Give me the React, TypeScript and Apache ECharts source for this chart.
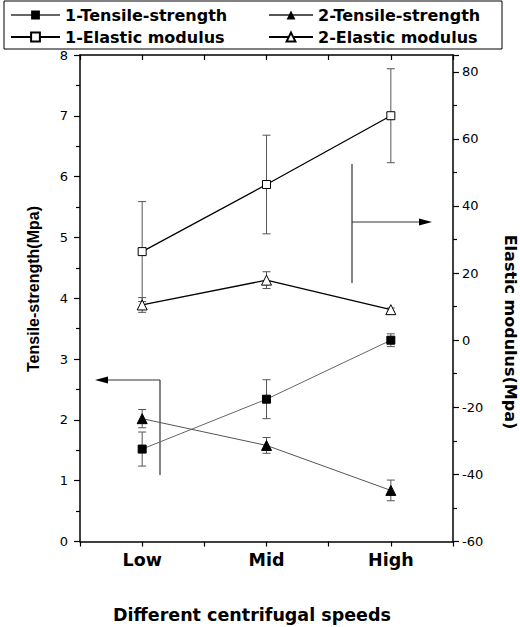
import React, { useEffect, useRef } from 'react';
import * as echarts from 'echarts';

const categories = ['Low', 'Mid', 'High'];
const catPositions = [1, 2, 3];

const tensile1 = [1.52, 2.34, 3.31];
const tensile1Err = [0.28, 0.32, 0.105];
const tensile2 = [2.02, 1.58, 0.84];
const tensile2Err = [0.15, 0.13, 0.17];
const elastic1 = [26.4, 46.4, 66.9];
const elastic1Err = [14.9, 14.7, 14.0];
const elastic2 = [10.5, 17.9, 9.1];
const elastic2Err = [2.2, 2.5, 0.5];

const leftTicks = { min: 0, max: 8, interval: 1 };
const rightTicks = { min: -60, max: 85, interval: 20 };

const FONT = 'DejaVu Sans';

function labelFor(v: number): string {
  const idx = catPositions.indexOf(v);
  return idx >= 0 ? categories[idx] : '';
}

function errorSeries(name: string, vals: number[], errs: number[], yAxisIndex: number) {
  return {
    type: 'custom',
    name,
    yAxisIndex,
    z: 1,
    silent: true,
    encode: { x: 0, y: [1, 2] },
    data: vals.map((v, i) => [catPositions[i], v - errs[i], v + errs[i]]),
    renderItem: (params: any, api: any) => {
      const x = api.value(0);
      const lo = api.coord([x, api.value(1)]);
      const hi = api.coord([x, api.value(2)]);
      const w = 4;
      const style = { stroke: '#555', lineWidth: 1 };
      return {
        type: 'group',
        children: [
          { type: 'line', shape: { x1: lo[0], y1: lo[1], x2: hi[0], y2: hi[1] }, style },
          { type: 'line', shape: { x1: lo[0] - w, y1: lo[1], x2: lo[0] + w, y2: lo[1] }, style },
          { type: 'line', shape: { x1: hi[0] - w, y1: hi[1], x2: hi[0] + w, y2: hi[1] }, style },
        ],
      };
    },
  };
}

function toPairs(vals: number[]) {
  return vals.map((v, i) => [catPositions[i], v]);
}

export default function App() {
  const ref = useRef<HTMLDivElement>(null);

  useEffect(() => {
    if (!ref.current) return;
    const chart = echarts.init(ref.current, undefined, { renderer: 'svg' });

    const axisLine = { show: true, onZero: false, lineStyle: { color: '#000', width: 1.5 } };
    const tickStyle = { color: '#000', width: 1.2 };
    const legendText = { fontFamily: FONT, fontWeight: 'bold', fontSize: 16, color: '#000', lineHeight: 18 };
    const arrowStyle = { stroke: '#333', lineWidth: 1.2 };

    const option: any = {
      animation: false,
      backgroundColor: '#fff',
      grid: { left: 80, right: 67, top: 55, bottom: 85.5, containLabel: false },
      legend: [
        {
          left: 10, top: 6, padding: 0, orient: 'vertical', itemWidth: 49, itemHeight: 11, itemGap: 4,
          data: ['1-Tensile-strength', '1-Elastic modulus'], textStyle: legendText,
        },
        {
          left: 268, top: 6, padding: 0, orient: 'vertical', itemWidth: 44, itemHeight: 11, itemGap: 4,
          data: ['2-Tensile-strength', '2-Elastic modulus'], textStyle: legendText,
        },
      ],
      xAxis: [
        {
          type: 'value', min: 0.5, max: 3.5, interval: 0.5, position: 'bottom',
          axisLine, axisTick: { show: true, inside: false, length: 5, lineStyle: tickStyle },
          axisLabel: {
            formatter: (v: number) => labelFor(v), fontFamily: FONT, fontWeight: 'bold',
            fontSize: 17.5, color: '#000', margin: 9,
          },
          splitLine: { show: false },
        },
        {
          type: 'value', min: 0.5, max: 3.5, interval: 0.5, position: 'top',
          axisLine, axisTick: { show: true, inside: true, length: 5, lineStyle: tickStyle },
          axisLabel: { show: false }, splitLine: { show: false },
        },
      ],
      yAxis: [
        {
          type: 'value', ...leftTicks, position: 'left',
          axisLine, axisTick: { show: true, length: 6, lineStyle: tickStyle },
          minorTick: { show: true, splitNumber: 2, length: 4, lineStyle: tickStyle },
          axisLabel: { fontFamily: FONT, fontSize: 13, color: '#000', margin: 12 },
          splitLine: { show: false },
        },
        {
          type: 'value', ...rightTicks, position: 'right',
          axisLine, axisTick: { show: true, length: 6, lineStyle: tickStyle },
          minorTick: { show: true, splitNumber: 2, length: 4, lineStyle: tickStyle },
          axisLabel: {
            fontFamily: FONT, fontSize: 13, color: '#000', margin: 9,
            formatter: (v: number) => (v % 20 === 0 ? String(v) : ''),
          },
          splitLine: { show: false },
        },
      ],
      series: [
        errorSeries('e1', tensile1, tensile1Err, 0),
        errorSeries('e2', tensile2, tensile2Err, 0),
        errorSeries('e3', elastic1, elastic1Err, 1),
        errorSeries('e4', elastic2, elastic2Err, 1),
        {
          name: '1-Tensile-strength', type: 'line', yAxisIndex: 0, data: toPairs(tensile1),
          symbol: 'rect', symbolSize: 8, z: 3,
          itemStyle: { color: '#000', borderColor: '#000' },
          lineStyle: { color: '#666', width: 1 },
        },
        {
          name: '2-Tensile-strength', type: 'line', yAxisIndex: 0, data: toPairs(tensile2),
          symbol: 'triangle', symbolSize: 10, z: 3,
          itemStyle: { color: '#000', borderColor: '#000' },
          lineStyle: { color: '#555', width: 1 },
        },
        {
          name: '1-Elastic modulus', type: 'line', yAxisIndex: 1, data: toPairs(elastic1),
          symbol: 'rect', symbolSize: 8, z: 3,
          itemStyle: { color: '#fff', borderColor: '#000', borderWidth: 1 },
          lineStyle: { color: '#000', width: 1.3 },
        },
        {
          name: '2-Elastic modulus', type: 'line', yAxisIndex: 1, data: toPairs(elastic2),
          symbol: 'triangle', symbolSize: 10, z: 3,
          itemStyle: { color: '#fff', borderColor: '#000', borderWidth: 1 },
          lineStyle: { color: '#000', width: 1.3 },
        },
      ],
      graphic: [
        { type: 'rect', shape: { x: 4, y: 1, width: 498, height: 48 }, style: { fill: 'none', stroke: '#000', lineWidth: 1 }, z: 0 },
        // right-pointing arrow (elastic modulus -> right axis)
        { type: 'line', shape: { x1: 352, y1: 164, x2: 352, y2: 283 }, style: arrowStyle },
        { type: 'line', shape: { x1: 352, y1: 222, x2: 422, y2: 222 }, style: arrowStyle },
        { type: 'polygon', shape: { points: [[432, 222], [419, 218.5], [419, 225.5]] }, style: { fill: '#000' } },
        // left-pointing arrow (tensile strength -> left axis)
        { type: 'line', shape: { x1: 160, y1: 380, x2: 160, y2: 475 }, style: arrowStyle },
        { type: 'line', shape: { x1: 160, y1: 380, x2: 105, y2: 380 }, style: arrowStyle },
        { type: 'polygon', shape: { points: [[95, 380], [108, 376.5], [108, 383.5]] }, style: { fill: '#000' } },
        {
          type: 'text', x: 33, y: 289, rotation: Math.PI / 2,
          style: { text: 'Tensile-strength(Mpa)', fontFamily: 'Liberation Sans', fontWeight: 'bold', fontSize: 16, fill: '#000', align: 'center', verticalAlign: 'middle' },
        },
        {
          type: 'text', x: 510, y: 332, rotation: -Math.PI / 2,
          style: { text: 'Elastic modulus(Mpa)', fontFamily: FONT, fontWeight: 'bold', fontSize: 16, fill: '#000', align: 'center', verticalAlign: 'middle' },
        },
        {
          type: 'text', x: 252, y: 615,
          style: { text: 'Different centrifugal speeds', fontFamily: FONT, fontWeight: 'bold', fontSize: 17.5, fill: '#000', align: 'center', verticalAlign: 'middle' },
        },
      ],
    };

    chart.setOption(option);
    return () => chart.dispose();
  }, []);

  return <div ref={ref} style={{ position: 'absolute', left: 0, top: 0, width: 520, height: 627 }} />;
}
